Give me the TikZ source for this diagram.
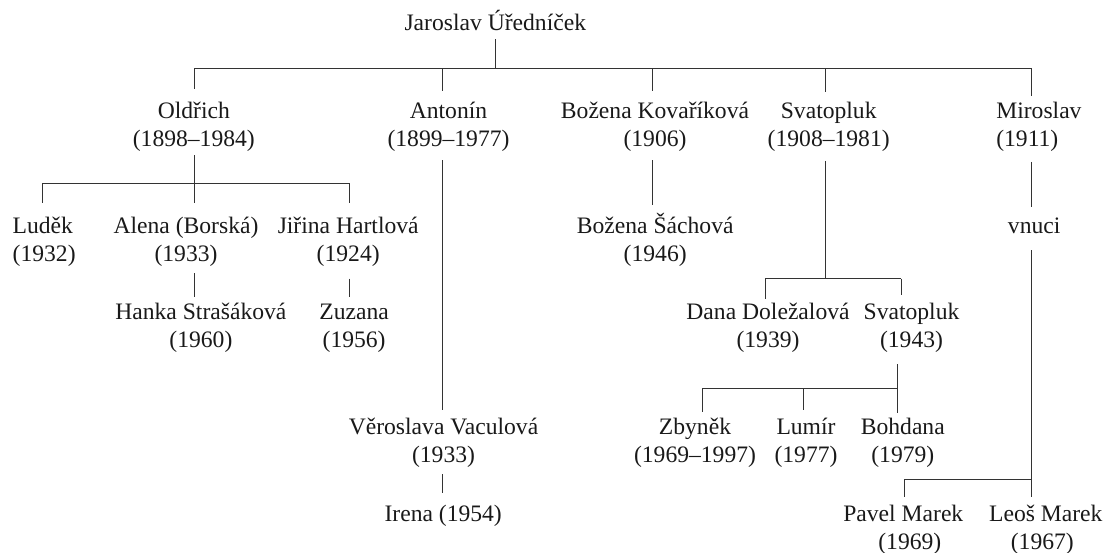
\documentclass[tikz,border=0pt]{standalone}
\usepackage{fontspec}
\setmainfont{Liberation Serif}
\newcommand\twoline[2]{\begin{tabular}[t]{@{}c@{}}#1\\#2\end{tabular}}
\newcommand\twolineleft[2]{\begin{tabular}[t]{@{}l@{}}#1\\#2\end{tabular}}
\newcommand\oneline[1]{\begin{tabular}[t]{@{}c@{}}#1\end{tabular}}
\begin{document}
\begin{tikzpicture}[x=1pt,y=1pt,
  person/.style={inner sep=0pt,outer sep=0pt,anchor=base,text=black!90,font=\fontsize{23.6}{28.4}\selectfont},
  conn/.style={line width=1pt,draw=black!80}]
\useasboundingbox (0,0) rectangle (1106,-553);
% people
\node[person] (jar) at (495.3,-30.7) {\oneline{Jaroslav Úředníček}};
\node[person] (old) at (193.8,-118.3) {\twoline{Oldřich}{(1898–1984)}};
\node[person] (ant) at (448.5,-118.3) {\twoline{Antonín}{(1899–1977)}};
\node[person] (boz) at (655,-118.3) {\twoline{Božena Kovaříková}{(1906)}};
\node[person] (sva) at (828.7,-118.3) {\twoline{Svatopluk}{(1908–1981)}};
\node[person,anchor=base west] (mir) at (996.3,-118.3) {\twolineleft{Miroslav}{(1911)}};
\node[person,anchor=base west] (lud) at (12.7,-233.3) {\twolineleft{Luděk}{(1932)}};
\node[person] (ale) at (186,-233.3) {\twoline{Alena (Borská)}{(1933)}};
\node[person] (jir) at (348.2,-233.3) {\twoline{Jiřina Hartlová}{(1924)}};
\node[person] (han) at (200.9,-319.3) {\twoline{Hanka Strašáková}{(1960)}};
\node[person] (zuz) at (354.1,-319.3) {\twoline{Zuzana}{(1956)}};
\node[person] (ver) at (443.5,-434.3) {\twoline{Věroslava Vaculová}{(1933)}};
\node[person] (ire) at (443.2,-521) {\oneline{Irena (1954)}};
\node[person] (bos) at (655.2,-233.3) {\twoline{Božena Šáchová}{(1946)}};
\node[person] (dan) at (768,-319.3) {\twoline{Dana Doležalová}{(1939)}};
\node[person] (sv2) at (911.5,-319.3) {\twoline{Svatopluk}{(1943)}};
\node[person] (zby) at (695,-434.3) {\twoline{Zbyněk}{(1969–1997)}};
\node[person] (lum) at (806,-434.3) {\twoline{Lumír}{(1977)}};
\node[person] (boh) at (902.8,-434.3) {\twoline{Bohdana}{(1979)}};
\node[person] (vnu) at (1034.2,-233.3) {\oneline{vnuci}};
\node[person] (pav) at (903.3,-521) {\twoline{Pavel Marek}{\hspace*{13pt}(1969)}};
\node[person] (leo) at (1045.8,-521) {\twoline{Leoš Marek}{(1967)\hspace*{7pt}}};
% helper coordinates
\coordinate (b0) at (0,-68.3);
\coordinate (b1) at (0,-183.3);
\coordinate (b2) at (0,-278.7);
\coordinate (b3) at (0,-388);
\coordinate (b4) at (0,-479.3);
\coordinate (mx) at (1031,0);
\coordinate (oldx) at ([xshift=0.5pt]old.north);
\coordinate (ludx) at ([xshift=-1.6pt]lud.north);
\coordinate (jirx) at ([xshift=1.1pt]jir.north);
\coordinate (antx) at ([xshift=-6.5pt]ant.north);
\coordinate (bozx) at ([xshift=-3pt]boz.north);
\coordinate (svax) at ([xshift=-3.4pt]sva.north);
\coordinate (danx) at ([xshift=-2.7pt]dan.north);
\coordinate (sv2x) at ([xshift=-10.2pt]sv2.north);
\coordinate (sv2c) at ([xshift=-13.8pt]sv2.south);
\coordinate (zbyx) at ([xshift=7.3pt]zby.north);
\coordinate (lumx) at ([xshift=-2.3pt]lum.north);
\coordinate (pavx) at ([xshift=1pt]pav.north);
% generation 1
\draw[conn] (jar.south) -- (jar.south |- b0);
\draw[conn] (oldx |- b0) -- (mx |- b0);
\draw[conn] (oldx |- b0) -- ++(0,-21);
\draw[conn] (antx |- b0) -- ++(0,-22.4);
\draw[conn] (bozx |- b0) -- ++(0,-22.4);
\draw[conn] (svax |- b0) -- ++(0,-24);
\draw[conn] (mx |- b0) -- ++(0,-27.4);
% Oldrich
\draw[conn] (oldx |- old.south) -- (oldx |- b1);
\draw[conn] (ludx |- b1) -- (jirx |- b1);
\draw[conn] (ludx |- b1) -- ++(0,-20);
\draw[conn] (oldx |- b1) -- ++(0,-20);
\draw[conn] (jirx |- b1) -- ++(0,-20);
\draw[conn,shorten <=3pt,shorten >=2.7pt] (oldx |- ale.south) -- (oldx |- han.north);
\draw[conn,shorten <=8.5pt,shorten >=2.7pt] (jirx |- jir.south) -- (jirx |- zuz.north);
% Antonin
\draw[conn,shorten <=5pt,shorten >=4.1pt] (antx |- ant.south) -- (antx |- ver.north);
\draw[conn,shorten <=3pt,shorten >=7.8pt] (antx |- ver.south) -- (antx |- ire.north);
% Bozena
\draw[conn,shorten <=5pt,shorten >=7.7pt] (bozx |- boz.south) -- (bozx |- bos.north);
% Svatopluk
\draw[conn,shorten <=5.7pt] (svax |- sva.south) -- (svax |- b2);
\draw[conn] (danx |- b2) -- (sv2x |- b2);
\draw[conn] (danx |- b2) -- (danx |- dan.north);
\draw[conn] (sv2x |- b2) -- ++(0,-16.3);
\draw[conn,shorten <=8.1pt] (sv2c) -- (sv2c |- b3);
\draw[conn] (zbyx |- b3) -- (sv2c |- b3);
\draw[conn] (zbyx |- b3) -- ++(0,-24);
\draw[conn] (lumx |- b3) -- ++(0,-22);
\draw[conn] (sv2c |- b3) -- ++(0,-25.3);
% Miroslav
\draw[conn,shorten <=6.7pt,shorten >=6.1pt] (mx |- mir.south) -- (mx |- vnu.north);
\draw[conn,shorten <=8.2pt,shorten >=4.4pt] (mx |- vnu.south) -- (mx |- leo.north);
\draw[conn] (pavx |- b4) -- (mx |- b4);
\draw[conn] (pavx |- b4) -- ++(0,-17.4);
\end{tikzpicture}
\end{document}
